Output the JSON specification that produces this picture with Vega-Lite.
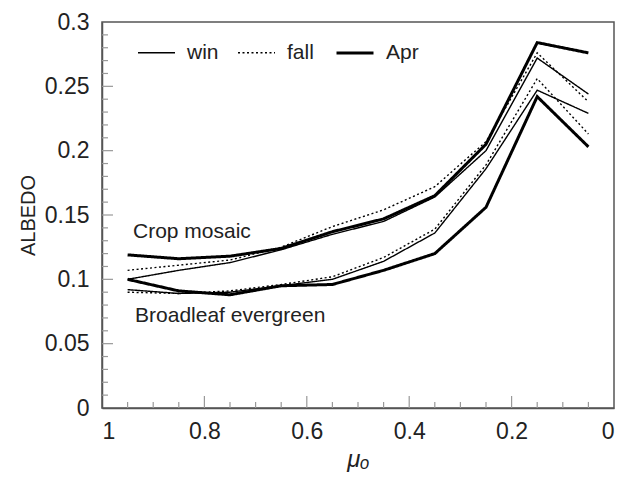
{
  "$schema": "https://vega.github.io/schema/vega-lite/v6.json",
  "width": 512,
  "height": 386,
  "autosize": "none",
  "padding": {"left": 102, "top": 22, "right": 12, "bottom": 72},
  "config": {
    "view": {"stroke": "#555", "strokeWidth": 1.5},
    "font": "Liberation Sans",
    "axis": {"zindex": 1, "domainColor": "#555", "domainWidth": 1.5, "grid": false, "labelFont": "Liberation Sans", "labelFontSize": 23, "labelColor": "#222", "titleFont": "Liberation Sans", "titleColor": "#222", "titleFontWeight": "normal"}
  },
  "datasets": {
    "curves": [
      {"cover": "Crop mosaic", "season": "Apr", "mu": 0.95, "albedo": 0.119},
      {"cover": "Crop mosaic", "season": "Apr", "mu": 0.85, "albedo": 0.116},
      {"cover": "Crop mosaic", "season": "Apr", "mu": 0.75, "albedo": 0.118},
      {"cover": "Crop mosaic", "season": "Apr", "mu": 0.65, "albedo": 0.124},
      {"cover": "Crop mosaic", "season": "Apr", "mu": 0.55, "albedo": 0.137},
      {"cover": "Crop mosaic", "season": "Apr", "mu": 0.45, "albedo": 0.147},
      {"cover": "Crop mosaic", "season": "Apr", "mu": 0.35, "albedo": 0.165},
      {"cover": "Crop mosaic", "season": "Apr", "mu": 0.25, "albedo": 0.205},
      {"cover": "Crop mosaic", "season": "Apr", "mu": 0.15, "albedo": 0.284},
      {"cover": "Crop mosaic", "season": "Apr", "mu": 0.05, "albedo": 0.276},
      {"cover": "Crop mosaic", "season": "win", "mu": 0.95, "albedo": 0.100},
      {"cover": "Crop mosaic", "season": "win", "mu": 0.85, "albedo": 0.107},
      {"cover": "Crop mosaic", "season": "win", "mu": 0.75, "albedo": 0.113},
      {"cover": "Crop mosaic", "season": "win", "mu": 0.65, "albedo": 0.123},
      {"cover": "Crop mosaic", "season": "win", "mu": 0.55, "albedo": 0.135},
      {"cover": "Crop mosaic", "season": "win", "mu": 0.45, "albedo": 0.145},
      {"cover": "Crop mosaic", "season": "win", "mu": 0.35, "albedo": 0.164},
      {"cover": "Crop mosaic", "season": "win", "mu": 0.25, "albedo": 0.200},
      {"cover": "Crop mosaic", "season": "win", "mu": 0.15, "albedo": 0.272},
      {"cover": "Crop mosaic", "season": "win", "mu": 0.05, "albedo": 0.244},
      {"cover": "Crop mosaic", "season": "fall", "mu": 0.95, "albedo": 0.107},
      {"cover": "Crop mosaic", "season": "fall", "mu": 0.85, "albedo": 0.111},
      {"cover": "Crop mosaic", "season": "fall", "mu": 0.75, "albedo": 0.115},
      {"cover": "Crop mosaic", "season": "fall", "mu": 0.65, "albedo": 0.125},
      {"cover": "Crop mosaic", "season": "fall", "mu": 0.55, "albedo": 0.141},
      {"cover": "Crop mosaic", "season": "fall", "mu": 0.45, "albedo": 0.154},
      {"cover": "Crop mosaic", "season": "fall", "mu": 0.35, "albedo": 0.172},
      {"cover": "Crop mosaic", "season": "fall", "mu": 0.25, "albedo": 0.207},
      {"cover": "Crop mosaic", "season": "fall", "mu": 0.15, "albedo": 0.276},
      {"cover": "Crop mosaic", "season": "fall", "mu": 0.05, "albedo": 0.238},
      {"cover": "Broadleaf evergreen", "season": "Apr", "mu": 0.95, "albedo": 0.100},
      {"cover": "Broadleaf evergreen", "season": "Apr", "mu": 0.85, "albedo": 0.091},
      {"cover": "Broadleaf evergreen", "season": "Apr", "mu": 0.75, "albedo": 0.088},
      {"cover": "Broadleaf evergreen", "season": "Apr", "mu": 0.65, "albedo": 0.095},
      {"cover": "Broadleaf evergreen", "season": "Apr", "mu": 0.55, "albedo": 0.096},
      {"cover": "Broadleaf evergreen", "season": "Apr", "mu": 0.45, "albedo": 0.107},
      {"cover": "Broadleaf evergreen", "season": "Apr", "mu": 0.35, "albedo": 0.120},
      {"cover": "Broadleaf evergreen", "season": "Apr", "mu": 0.25, "albedo": 0.156},
      {"cover": "Broadleaf evergreen", "season": "Apr", "mu": 0.15, "albedo": 0.242},
      {"cover": "Broadleaf evergreen", "season": "Apr", "mu": 0.05, "albedo": 0.203},
      {"cover": "Broadleaf evergreen", "season": "win", "mu": 0.95, "albedo": 0.092},
      {"cover": "Broadleaf evergreen", "season": "win", "mu": 0.85, "albedo": 0.089},
      {"cover": "Broadleaf evergreen", "season": "win", "mu": 0.75, "albedo": 0.090},
      {"cover": "Broadleaf evergreen", "season": "win", "mu": 0.65, "albedo": 0.095},
      {"cover": "Broadleaf evergreen", "season": "win", "mu": 0.55, "albedo": 0.100},
      {"cover": "Broadleaf evergreen", "season": "win", "mu": 0.45, "albedo": 0.114},
      {"cover": "Broadleaf evergreen", "season": "win", "mu": 0.35, "albedo": 0.136},
      {"cover": "Broadleaf evergreen", "season": "win", "mu": 0.25, "albedo": 0.186},
      {"cover": "Broadleaf evergreen", "season": "win", "mu": 0.15, "albedo": 0.247},
      {"cover": "Broadleaf evergreen", "season": "win", "mu": 0.05, "albedo": 0.229},
      {"cover": "Broadleaf evergreen", "season": "fall", "mu": 0.95, "albedo": 0.090},
      {"cover": "Broadleaf evergreen", "season": "fall", "mu": 0.85, "albedo": 0.089},
      {"cover": "Broadleaf evergreen", "season": "fall", "mu": 0.75, "albedo": 0.091},
      {"cover": "Broadleaf evergreen", "season": "fall", "mu": 0.65, "albedo": 0.096},
      {"cover": "Broadleaf evergreen", "season": "fall", "mu": 0.55, "albedo": 0.102},
      {"cover": "Broadleaf evergreen", "season": "fall", "mu": 0.45, "albedo": 0.117},
      {"cover": "Broadleaf evergreen", "season": "fall", "mu": 0.35, "albedo": 0.139},
      {"cover": "Broadleaf evergreen", "season": "fall", "mu": 0.25, "albedo": 0.189},
      {"cover": "Broadleaf evergreen", "season": "fall", "mu": 0.15, "albedo": 0.256},
      {"cover": "Broadleaf evergreen", "season": "fall", "mu": 0.05, "albedo": 0.213}
    ],
    "labels": [
      {"label": "Crop mosaic", "mu": 0.9395, "albedo": 0.1368},
      {"label": "Broadleaf evergreen", "mu": 0.9355, "albedo": 0.0715}
    ],
    "yMinor": [{"v": 0.01}, {"v": 0.02}, {"v": 0.03}, {"v": 0.04}, {"v": 0.06}, {"v": 0.07}, {"v": 0.08}, {"v": 0.09}, {"v": 0.11}, {"v": 0.12}, {"v": 0.13}, {"v": 0.14}, {"v": 0.16}, {"v": 0.17}, {"v": 0.18}, {"v": 0.19}, {"v": 0.21}, {"v": 0.22}, {"v": 0.23}, {"v": 0.24}, {"v": 0.26}, {"v": 0.27}, {"v": 0.28}, {"v": 0.29}],
    "yMajor": [{"v": 0.05}, {"v": 0.1}, {"v": 0.15}, {"v": 0.2}, {"v": 0.25}],
    "xMinor": [{"v": 0.05}, {"v": 0.1}, {"v": 0.15}, {"v": 0.25}, {"v": 0.3}, {"v": 0.35}, {"v": 0.45}, {"v": 0.5}, {"v": 0.55}, {"v": 0.65}, {"v": 0.7}, {"v": 0.75}, {"v": 0.85}, {"v": 0.9}, {"v": 0.95}],
    "xMajor": [{"v": 0.2}, {"v": 0.4}, {"v": 0.6}, {"v": 0.8}]
  },
  "layer": [
    {
      "data": {"name": "yMinor"},
      "mark": {"type": "rule", "color": "#999", "strokeWidth": 1.2},
      "encoding": {
        "y": {"field": "v", "type": "quantitative", "axis": null},
        "x": {"datum": 1, "type": "quantitative", "axis": null},
        "x2": {"datum": 0.9883}
      }
    },
    {
      "data": {"name": "yMajor"},
      "mark": {"type": "rule", "color": "#999", "strokeWidth": 1.2},
      "encoding": {
        "y": {"field": "v", "type": "quantitative", "axis": null},
        "x": {"datum": 1, "type": "quantitative", "axis": null},
        "x2": {"datum": 0.9785}
      }
    },
    {
      "data": {"name": "xMinor"},
      "mark": {"type": "rule", "color": "#999", "strokeWidth": 1.2},
      "encoding": {
        "x": {"field": "v", "type": "quantitative", "axis": null},
        "y": {"datum": 0, "type": "quantitative", "axis": null},
        "y2": {"datum": 0.0047}
      }
    },
    {
      "data": {"name": "xMajor"},
      "mark": {"type": "rule", "color": "#999", "strokeWidth": 1.2},
      "encoding": {
        "x": {"field": "v", "type": "quantitative", "axis": null},
        "y": {"datum": 0, "type": "quantitative", "axis": null},
        "y2": {"datum": 0.0093}
      }
    },
    {
      "data": {"name": "curves"},
      "mark": {"type": "line", "color": "black", "strokeCap": "butt"},
      "encoding": {
        "x": {"field": "mu", "type": "quantitative", "scale": {"domain": [0, 1], "reverse": true, "nice": false}, "axis": {"orient": "bottom", "values": [0, 0.2, 0.4, 0.6, 0.8, 1], "format": "~g", "ticks": false, "tickSize": 0, "labelPadding": 12, "title": "μₒ", "titleFontSize": 24, "titleFontStyle": "italic", "titlePadding": 4}},
        "y": {"field": "albedo", "type": "quantitative", "scale": {"domain": [0, 0.3], "nice": false}, "axis": {"orient": "left", "values": [0, 0.05, 0.1, 0.15, 0.2, 0.25, 0.3], "format": "~g", "ticks": false, "tickSize": 0, "labelPadding": 13, "title": "ALBEDO", "titleFontSize": 20, "titlePadding": 6}},
        "detail": {"field": "cover"},
        "strokeDash": {"field": "season", "type": "nominal", "scale": {"domain": ["win", "fall", "Apr"], "range": [[1, 0], [2, 2.5], [1, 0]]}, "legend": {"orient": "none", "legendX": 35, "legendY": 11, "direction": "horizontal", "title": null, "symbolType": "stroke", "symbolSize": 1369, "symbolStrokeColor": "black", "labelFontSize": 21, "labelFont": "Liberation Sans", "labelColor": "#222", "labelOffset": 11, "columnPadding": 16, "padding": 0}},
        "strokeWidth": {"field": "season", "type": "nominal", "scale": {"type": "ordinal", "domain": ["win", "fall", "Apr"], "range": [1.4, 1.4, 3]}, "legend": {"orient": "none", "legendX": 35, "legendY": 11, "direction": "horizontal", "title": null, "symbolType": "stroke", "symbolSize": 1369, "symbolStrokeColor": "black", "labelFontSize": 21, "labelFont": "Liberation Sans", "labelColor": "#222", "labelOffset": 11, "columnPadding": 16, "padding": 0}}
      }
    },
    {
      "data": {"name": "labels"},
      "mark": {"type": "text", "align": "left", "baseline": "middle", "fontSize": 21, "font": "Liberation Sans", "color": "#222"},
      "encoding": {
        "x": {"field": "mu", "type": "quantitative", "axis": null},
        "y": {"field": "albedo", "type": "quantitative", "axis": null},
        "text": {"field": "label"}
      }
    }
  ],
  "resolve": {"axis": {"x": "independent", "y": "independent"}}
}
